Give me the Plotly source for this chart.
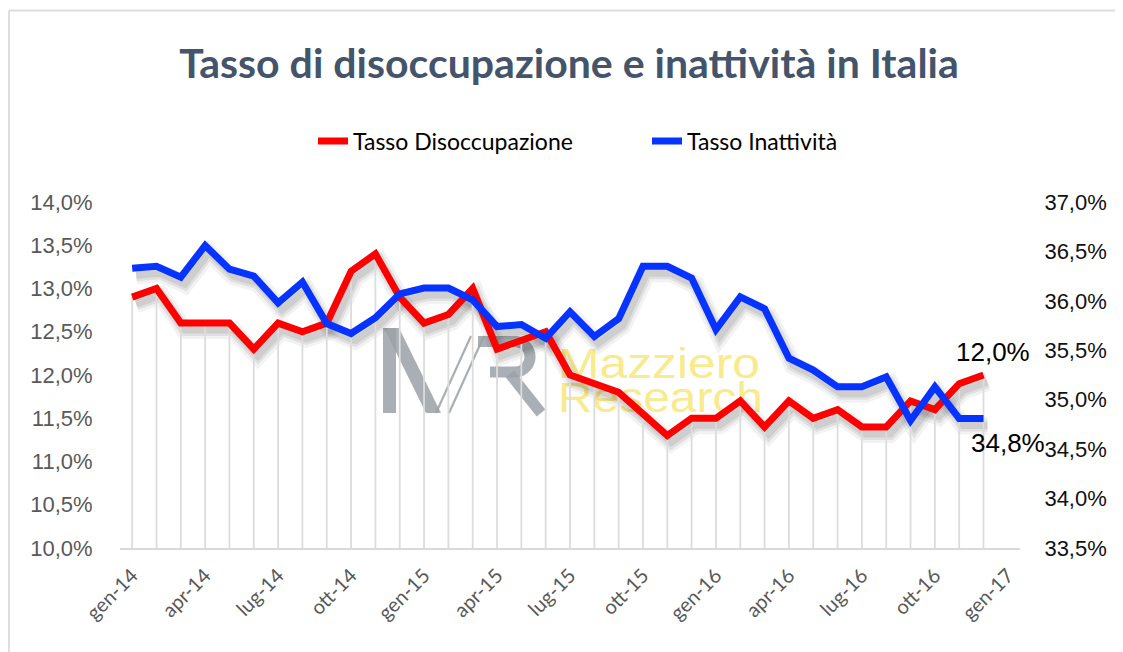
import base64
import plotly.graph_objects as go

# ---------------- data ----------------
periodi = ["gen-14", "feb-14", "mar-14", "apr-14", "mag-14", "giu-14", "lug-14", "ago-14", "set-14",
           "ott-14", "nov-14", "dic-14", "gen-15", "feb-15", "mar-15", "apr-15", "mag-15", "giu-15",
           "lug-15", "ago-15", "set-15", "ott-15", "nov-15", "dic-15", "gen-16", "feb-16", "mar-16",
           "apr-16", "mag-16", "giu-16", "lug-16", "ago-16", "set-16", "ott-16", "nov-16", "dic-16"]

tasso_disoccupazione = [12.9, 13.0, 12.6, 12.6, 12.6, 12.3, 12.6, 12.5, 12.6, 13.2, 13.4, 12.9,
                        12.6, 12.7, 13.0, 12.3, 12.4, 12.5, 12.0, 11.9, 11.8, 11.55, 11.3, 11.5,
                        11.5, 11.7, 11.4, 11.7, 11.5, 11.6, 11.4, 11.4, 11.7, 11.6, 11.9, 12.0]

tasso_inattivita = [36.33, 36.35, 36.24, 36.56, 36.32, 36.25, 35.98, 36.19, 35.77, 35.67, 35.83, 36.07,
                    36.13, 36.13, 36.01, 35.74, 35.76, 35.62, 35.89, 35.64, 35.82, 36.35, 36.35, 36.23,
                    35.71, 36.04, 35.92, 35.42, 35.30, 35.13, 35.13, 35.23, 34.79, 35.13, 34.81, 34.81]

tick_labels = ["gen-14", "apr-14", "lug-14", "ott-14", "gen-15", "apr-15", "lug-15",
               "ott-15", "gen-16", "apr-16", "lug-16", "ott-16", "gen-17"]
tick_step = 3

left_range = [10.0, 14.0]
right_range = [33.5, 37.0]

# ---------------- geometry (page pixels; the page body adds an 8px margin) ----------------
OFF = 8
W, H = 1123 - OFF, 652 - OFF
P_L, P_R, P_T, P_B = 120, 1020, 202, 548          # plot box in page pixels
ML, MT = P_L - OFF, P_T - OFF
PW, PH = P_R - P_L, P_B - P_T
MR, MB = W - ML - PW, H - MT - PH

def px(xp):   # page x -> paper
    return (xp - P_L) / PW

def py(yp):   # page y -> paper
    return (P_B - yp) / PH

x_range = [-0.5, len(periodi) + 0.5]
x = list(range(len(periodi)))
tickvals = [i * tick_step for i in range(len(tick_labels))]

# shadow offset (pixels) converted to axis-unit shifts
sh_dx_px, sh_dy_px = 4, 7
dx = sh_dx_px * (x_range[1] - x_range[0]) / PW
dy_l = sh_dy_px * (left_range[1] - left_range[0]) / PH
dy_r = sh_dy_px * (right_range[1] - right_range[0]) / PH

RED = "#FF0000"
BLUE = "#0633FF"

fig = go.Figure()

# shadows on the (hidden, shifted) base axes
for w, a in [(18, 0.05), (12, 0.07), (7, 0.08)]:
    fig.add_trace(go.Scatter(x=x, y=tasso_disoccupazione, mode="lines", xaxis="x", yaxis="y",
                             line=dict(color=f"rgba(0,0,0,{a})", width=w), hoverinfo="skip",
                             showlegend=False))
    fig.add_trace(go.Scatter(x=x, y=tasso_inattivita, mode="lines", xaxis="x", yaxis="y2",
                             line=dict(color=f"rgba(0,0,0,{a})", width=w), hoverinfo="skip",
                             showlegend=False))

# drop lines from the unemployment points to the axis
fig.add_trace(go.Scatter(
    x=x, y=tasso_disoccupazione, mode="markers", xaxis="x2", yaxis="y3",
    marker=dict(size=1, opacity=0),
    error_y=dict(type="data", symmetric=False, array=[0] * len(x),
                 arrayminus=[v - left_range[0] for v in tasso_disoccupazione],
                 color="#dcdcdc", thickness=1.8, width=0),
    hoverinfo="skip", showlegend=False))

fig.add_trace(go.Scatter(x=x, y=tasso_disoccupazione, mode="lines", name="Tasso Disoccupazione",
                         xaxis="x2", yaxis="y3", line=dict(color=RED, width=7),
                         customdata=periodi, hovertemplate="%{customdata}: %{y:.1f}%<extra></extra>"))
fig.add_trace(go.Scatter(x=x, y=tasso_inattivita, mode="lines", name="Tasso Inattività",
                         xaxis="x2", yaxis="y4", line=dict(color=BLUE, width=7),
                         customdata=periodi, hovertemplate="%{customdata}: %{y:.1f}%<extra></extra>"))

def fmt(v):
    return f"{v:.1f}%".replace(".", ",")

tick_font_left = dict(family="Liberation Sans, Arial", size=22, color="#595959")
tick_font_right = dict(family="Liberation Sans, Arial", size=22, color="#111111")

fig.update_layout(
    width=W, height=H,
    margin=dict(l=ML, r=MR, t=MT, b=MB),
    paper_bgcolor="white", plot_bgcolor="rgba(0,0,0,0)",
    separators=",.",
    title=dict(text="<b>Tasso di disoccupazione e inattività in Italia</b>",
               x=(569 - OFF) / W, xref="container", xanchor="center",
               y=1 - (64 - OFF) / H, yanchor="middle",
               font=dict(family="Lato", size=41, color="#44546A")),
    legend=dict(orientation="h", x=px(313), xanchor="left",
                y=py(141), yanchor="middle",
                font=dict(family="Lato", size=23, color="#000000"),
                bgcolor="rgba(0,0,0,0)", itemwidth=30, entrywidth=289, entrywidthmode="pixels"),
    xaxis=dict(range=[x_range[0] - dx, x_range[1] - dx], visible=False, fixedrange=True),
    yaxis=dict(range=[left_range[0] + dy_l, left_range[1] + dy_l], visible=False),
    yaxis2=dict(range=[right_range[0] + dy_r, right_range[1] + dy_r], visible=False,
                overlaying="y", anchor="x"),
    xaxis2=dict(range=x_range, overlaying="x", anchor="y3", side="bottom",
                tickmode="array", tickvals=tickvals, ticktext=tick_labels, tickangle=-45,
                showline=True, linecolor="#d9d9d9", linewidth=2, showgrid=False, zeroline=False,
                ticks="outside", ticklen=6, tickcolor="rgba(0,0,0,0)",
                tickfont=dict(family="Lato", size=20, color="#595959")),
    yaxis3=dict(range=left_range, overlaying="y", anchor="x2", side="left",
                tickmode="linear", tick0=left_range[0], dtick=0.5,
                tickformat=".1f", ticksuffix="%", showgrid=False, zeroline=False, showline=False,
                ticks="outside", ticklen=22, tickcolor="rgba(0,0,0,0)", tickfont=tick_font_left),
    yaxis4=dict(range=right_range, overlaying="y", anchor="x2", side="right",
                tickmode="linear", tick0=right_range[0], dtick=0.5,
                tickformat=".1f", ticksuffix="%", showgrid=False, zeroline=False, showline=False,
                ticks="outside", ticklen=19, tickcolor="rgba(0,0,0,0)", tickfont=tick_font_right),
)

# end-point data labels
fig.add_annotation(x=x[-1], y=tasso_disoccupazione[-1], xref="x2", yref="y3",
                   text=fmt(tasso_disoccupazione[-1]), showarrow=False,
                   xshift=9, yshift=23,
                   font=dict(family="Liberation Sans, Arial", size=26, color="#000000"))
fig.add_annotation(x=x[-1], y=tasso_inattivita[-1], xref="x2", yref="y4",
                   text=fmt(tasso_inattivita[-1]), showarrow=False,
                   xshift=24, yshift=-24,
                   font=dict(family="Liberation Sans, Arial", size=26, color="#000000"))

# watermark logo (behind the lines), drawn as an inline SVG image in page-pixel units
wm_x0, wm_y0, wm_w, wm_h = 370, 320, 410, 100
svg = f'''<svg xmlns="http://www.w3.org/2000/svg" width="{wm_w}" height="{wm_h}"
 viewBox="{wm_x0} {wm_y0} {wm_w} {wm_h}" preserveAspectRatio="none">
<g fill="#9aa1a7" fill-opacity="0.85">
<polygon points="383,328 396,328 396,413 383,413"/>
<polygon points="384,328 399,328 441,413 426,413"/>
</g>
<g stroke="#9aa1a7" stroke-opacity="0.85" fill="none">
<line x1="436" y1="413" x2="471" y2="336" stroke-width="2.2"/>
<line x1="449" y1="413" x2="484" y2="336" stroke-width="2.2"/>
<path d="M478,341.5 H516 A15.3,15.3 0 0 1 516,372 H490" stroke-width="11"/>
<line x1="510" y1="374" x2="541" y2="413" stroke-width="11"/>
</g>
<text x="558" y="378" font-family="Liberation Sans, Arial" font-size="42" fill="#f6dc40" fill-opacity="0.62"
 textLength="202" lengthAdjust="spacingAndGlyphs">Mazziero</text>
<text x="558" y="412" font-family="Liberation Sans, Arial" font-size="42" fill="#f6dc40" fill-opacity="0.62"
 textLength="205" lengthAdjust="spacingAndGlyphs">Research</text>
</svg>'''
fig.add_layout_image(
    source="data:image/svg+xml;base64," + base64.b64encode(svg.encode("utf-8")).decode("ascii"),
    xref="paper", yref="paper", x=px(wm_x0), y=py(wm_y0), sizex=wm_w / PW, sizey=wm_h / PH,
    xanchor="left", yanchor="top", sizing="stretch", layer="below")

# outer frame (top and left edges of the screenshot card)
fx0 = px(OFF + 1)
fy0 = py(10.5)
fig.add_shape(type="line", xref="paper", yref="paper", x0=fx0, x1=px(1125),
              y0=fy0, y1=fy0, line=dict(color="#dedede", width=2))
fig.add_shape(type="line", xref="paper", yref="paper", x0=fx0, x1=fx0,
              y0=fy0, y1=py(660), line=dict(color="#dedede", width=2))

fig.write_html("out.html")
